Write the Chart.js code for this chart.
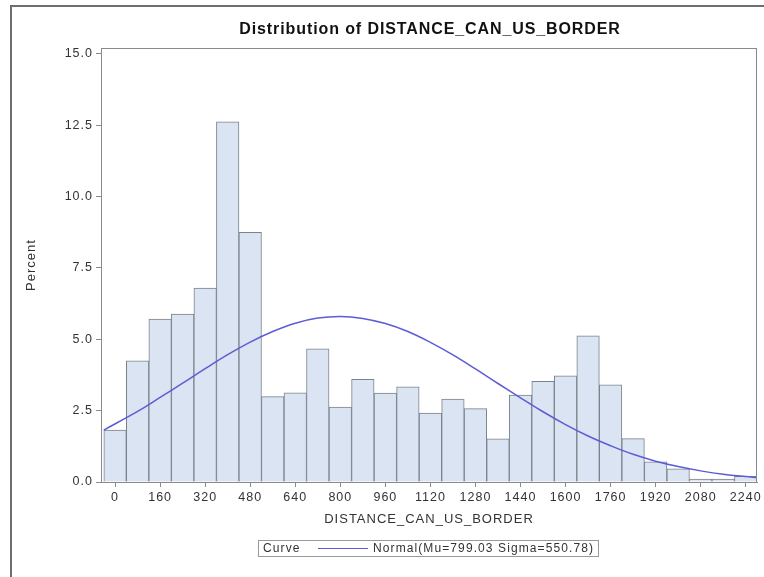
<!DOCTYPE html>
<html>
<head>
<meta charset="utf-8">
<title>Distribution of DISTANCE_CAN_US_BORDER</title>
<script src="https://cdn.jsdelivr.net/npm/chart.js@4"></script>
<style>
  body { margin: 0; background: #fff; }
  #chart { display: block; }
</style>
</head>
<body>
<canvas id="chart" width="764" height="577"></canvas>
<script>
// Histogram bins (midpoints) and percent per bin
const binMids = [0, 80, 160, 240, 320, 400, 480, 560, 640, 720, 800, 880, 960, 1040, 1120,
  1200, 1280, 1360, 1440, 1520, 1600, 1680, 1760, 1840, 1920, 2000, 2080, 2160, 2240];
const percents = [1.82, 4.24, 5.71, 5.88, 6.79, 12.61, 8.74, 2.99, 3.12, 4.66, 2.62, 3.60, 3.11, 3.33, 2.41,
  2.90, 2.57, 1.51, 3.04, 3.53, 3.72, 5.12, 3.40, 1.52, 0.71, 0.46, 0.10, 0.10, 0.20];

// Fitted normal curve
const curveX = [-40, 80, 160, 240, 320, 400, 480, 560, 640, 720, 800, 880, 960, 1040, 1120,
  1200, 1280, 1360, 1440, 1520, 1600, 1680, 1760, 1840, 1920, 2000, 2080, 2160, 2240, 2280];
const curveY = [1.82, 2.47, 2.96, 3.46, 3.97, 4.46, 4.90, 5.27, 5.56, 5.74, 5.80, 5.73, 5.55, 5.27, 4.89,
  4.45, 3.96, 3.45, 2.95, 2.46, 2.01, 1.61, 1.27, 0.97, 0.73, 0.54, 0.39, 0.27, 0.19, 0.16];

// Tick labels
const xTicks = [0, 160, 320, 480, 640, 800, 960, 1120, 1280, 1440, 1600, 1760, 1920, 2080, 2240];
const yTicks = [0, 2.5, 5, 7.5, 10, 12.5, 15];

const chartTitle = 'Distribution of DISTANCE_CAN_US_BORDER';
const curveLabel = 'Normal(Mu=799.03 Sigma=550.78)';

const FONT = '"Liberation Sans", Arial, sans-serif';
const AXIS_GREY = '#8a8a8a';
const TEXT = '#333';
const CURVE_BLUE = 'rgb(92, 92, 214)';

// Frame, title, plot box and legend drawn around the chart
const sasFrame = {
  id: 'sasFrame',
  beforeDraw(chart) {
    const ctx = chart.ctx;
    ctx.save();
    ctx.fillStyle = '#fff';
    ctx.fillRect(0, 0, chart.width, chart.height);
    ctx.strokeStyle = '#6f6f6f';
    ctx.lineWidth = 2;
    ctx.beginPath();
    ctx.moveTo(11, chart.height);
    ctx.lineTo(11, 6);
    ctx.lineTo(chart.width, 6);
    ctx.stroke();

    ctx.fillStyle = '#111';
    ctx.font = 'bold 16px ' + FONT;
    ctx.letterSpacing = '0.9px';
    ctx.textAlign = 'center';
    ctx.textBaseline = 'middle';
    const area = chart.chartArea;
    ctx.fillText(chartTitle, (area.left + area.right) / 2 + 1, 30);
    ctx.restore();
    // the SAS text is a little spaced out; keep it for the axis texts drawn next
    ctx.letterSpacing = '1px';
  },
  afterDatasetsDraw(chart) {
    const ctx = chart.ctx;
    const area = chart.chartArea;
    ctx.save();
    ctx.strokeStyle = AXIS_GREY;
    ctx.lineWidth = 1;
    ctx.strokeRect(area.left + 0.5, area.top + 0.5, area.right - area.left - 1, area.bottom - area.top);

    // legend box
    const lx = 258, ly = 540, lw = 340, lh = 16;
    ctx.strokeStyle = '#999';
    ctx.strokeRect(lx + 0.5, ly + 0.5, lw, lh);
    ctx.fillStyle = TEXT;
    ctx.font = '12px ' + FONT;
    ctx.letterSpacing = '1.1px';
    ctx.textBaseline = 'middle';
    ctx.textAlign = 'left';
    ctx.fillText('Curve', lx + 5, ly + lh / 2 + 1);
    ctx.strokeStyle = CURVE_BLUE;
    ctx.lineWidth = 1.2;
    ctx.beginPath();
    ctx.moveTo(lx + 60, ly + lh / 2 + 0.5);
    ctx.lineTo(lx + 110, ly + lh / 2 + 0.5);
    ctx.stroke();
    ctx.fillText(curveLabel, lx + 115, ly + lh / 2 + 1);
    ctx.restore();
  }
};

new Chart(document.getElementById('chart'), {
  data: {
    datasets: [
      {
        type: 'line',
        label: curveLabel,
        data: curveX.map((x, i) => ({ x: x, y: curveY[i] })),
        borderColor: CURVE_BLUE,
        borderWidth: 1.5,
        pointRadius: 0,
        tension: 0.4,
        fill: false,
        order: 0
      },
      {
        type: 'bar',
        label: 'Percent',
        data: binMids.map((x, i) => ({ x: x, y: percents[i] })),
        backgroundColor: 'rgb(218, 228, 242)',
        borderColor: '#7b828c',
        borderWidth: 1,
        barPercentage: 1,
        categoryPercentage: 1,
        grouped: false,
        order: 1
      }
    ]
  },
  options: {
    responsive: false,
    animation: false,
    devicePixelRatio: 1,
    layout: { padding: { left: 0, right: 7, top: 48, bottom: 45 } },
    plugins: {
      legend: { display: false },
      tooltip: { enabled: false }
    },
    scales: {
      x: {
        type: 'linear',
        min: -50,
        max: 2280,
        offset: false,
        afterBuildTicks: (scale) => { scale.ticks = xTicks.map(v => ({ value: v })); },
        afterFit: (scale) => { scale.height = 50; },
        ticks: {
          color: TEXT,
          font: { family: FONT, size: 12.5 },
          padding: 3,
          maxRotation: 0,
          autoSkip: false,
          callback: (v) => String(v)
        },
        grid: { offset: false, drawOnChartArea: false, tickLength: 5, color: AXIS_GREY },
        border: { color: AXIS_GREY },
        title: {
          display: true,
          text: 'DISTANCE_CAN_US_BORDER',
          color: TEXT,
          font: { family: FONT, size: 13 },
          padding: { top: 0, bottom: 5 }
        }
      },
      y: {
        min: 0,
        max: 15.2,
        afterBuildTicks: (scale) => { scale.ticks = yTicks.map(v => ({ value: v })); },
        afterFit: (scale) => { scale.width = 101; },
        ticks: {
          color: TEXT,
          font: { family: FONT, size: 12.5 },
          padding: 3,
          callback: (v) => v.toFixed(1)
        },
        grid: { drawOnChartArea: false, tickLength: 5, color: AXIS_GREY },
        border: { color: AXIS_GREY },
        title: {
          display: true,
          text: 'Percent',
          color: TEXT,
          font: { family: FONT, size: 13 },
          padding: { top: 24, bottom: 0 }
        }
      }
    }
  },
  plugins: [sasFrame]
});
</script>
</body>
</html>
